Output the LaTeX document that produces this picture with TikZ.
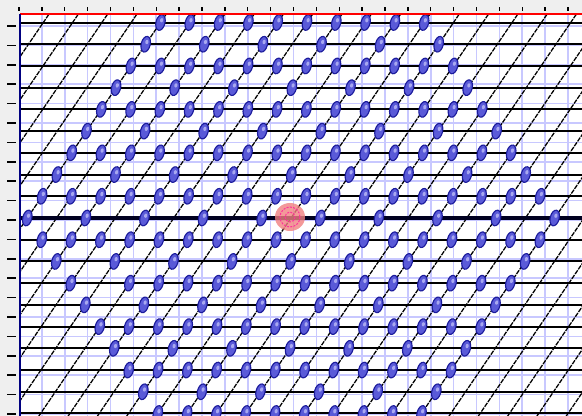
\documentclass[tikz,border=0pt]{standalone}
\definecolor{gridblue}{HTML}{C8C8FF}
\definecolor{marg}{HTML}{EFEFEF}
\definecolor{blobfill}{HTML}{5A5AD8}
\definecolor{blobline}{HTML}{1C1C9C}
\definecolor{bloblight}{HTML}{A8A8F0}
\definecolor{navy}{HTML}{000080}
\definecolor{ringpink}{HTML}{FF3399}
\definecolor{salmon}{HTML}{F08080}
\tikzset{
  gridline/.style={gridblue, line width=1.3pt},
  rowline/.style={black, line width=1.5pt},
  diagline/.style={black, line width=0.95pt, dash pattern=on 3.5pt off 0.8pt},
  tickmark/.style={black, line width=1.1pt},
  blobshape/.style={fill=blobfill, draw=blobline, line width=0.85pt},
  blobcore/.style={fill=bloblight},
  ringline/.style={ringpink, line width=0.75pt, dash pattern=on 1.5pt off 1pt},
}
\begin{document}
\begin{tikzpicture}[x=0.75pt,y=-0.75pt]
\useasboundingbox (0,0) rectangle (582,416);
\fill[marg] (0,0) rectangle (582,416);
\fill[white] (20,14) rectangle (582,416);
% light blue grid
\foreach \k in {1,...,24} \draw[gridline] ({19+22.875*\k},14) -- ({19+22.875*\k},416);
\foreach \k in {0,...,20} \draw[gridline] (20,{26+19.4*\k}) -- (582,{26+19.4*\k});
% ruler ticks
\foreach \k in {0,...,24} \draw[tickmark] ({19+22.875*\k},7.5) -- ({19+22.875*\k},11);
\foreach \k in {0,...,20} \draw[tickmark] (7,{26+19.4*\k}) -- (16,{26+19.4*\k});
\begin{scope}
\clip (20,14) rectangle (582,416);
% slanted lattice lines
\foreach \i in {-20,...,20}
  \draw[diagline] ({291+29.3*\i-148},{218+217.2}) -- ({291+29.3*\i+148},{218-217.2});
% horizontal lattice rows
\foreach \j in {-9,...,9}
  \draw[rowline] (20,{218-21.72*\j}) -- (582,{218-21.72*\j});
\draw[black!75!navy, line width=3pt] (20,218) -- (582,218);
% origin marker
\fill[salmon, fill opacity=0.8] (290,217) ellipse [x radius=15, y radius=14];
\draw[ringline] (290,217) circle [radius=10];
\draw[ringline] (290,217) circle [radius=5];
% atoms
\foreach \j in {-9,...,9}{
  \foreach \i in {-9,...,9}{
    \pgfmathtruncatemacro\ok{(abs(\i+\j)<=9)&&(isodd(\i)||isodd(\j))&&!((\i==-5)&&(\j==-3))}
    \ifnum\ok=1
      \pgfmathsetmacro\bx{291+29.3*\i+14.8*\j}
      \pgfmathsetmacro\by{218-21.72*\j}
      \begin{scope}[shift={(\bx,\by)}, rotate=-14]
        \path[blobshape] (0,0) ellipse [x radius=4.5, y radius=8];
        \path[blobcore] (0.6,-2.5) ellipse [x radius=1.6, y radius=2.2];
      \end{scope}
    \fi
  }
}
\end{scope}
% frame edges
\draw[red, line width=1.5pt] (20,14) -- (582,14);
\draw[navy, line width=1.5pt] (20,14) -- (20,416);
\end{tikzpicture}
\end{document}
